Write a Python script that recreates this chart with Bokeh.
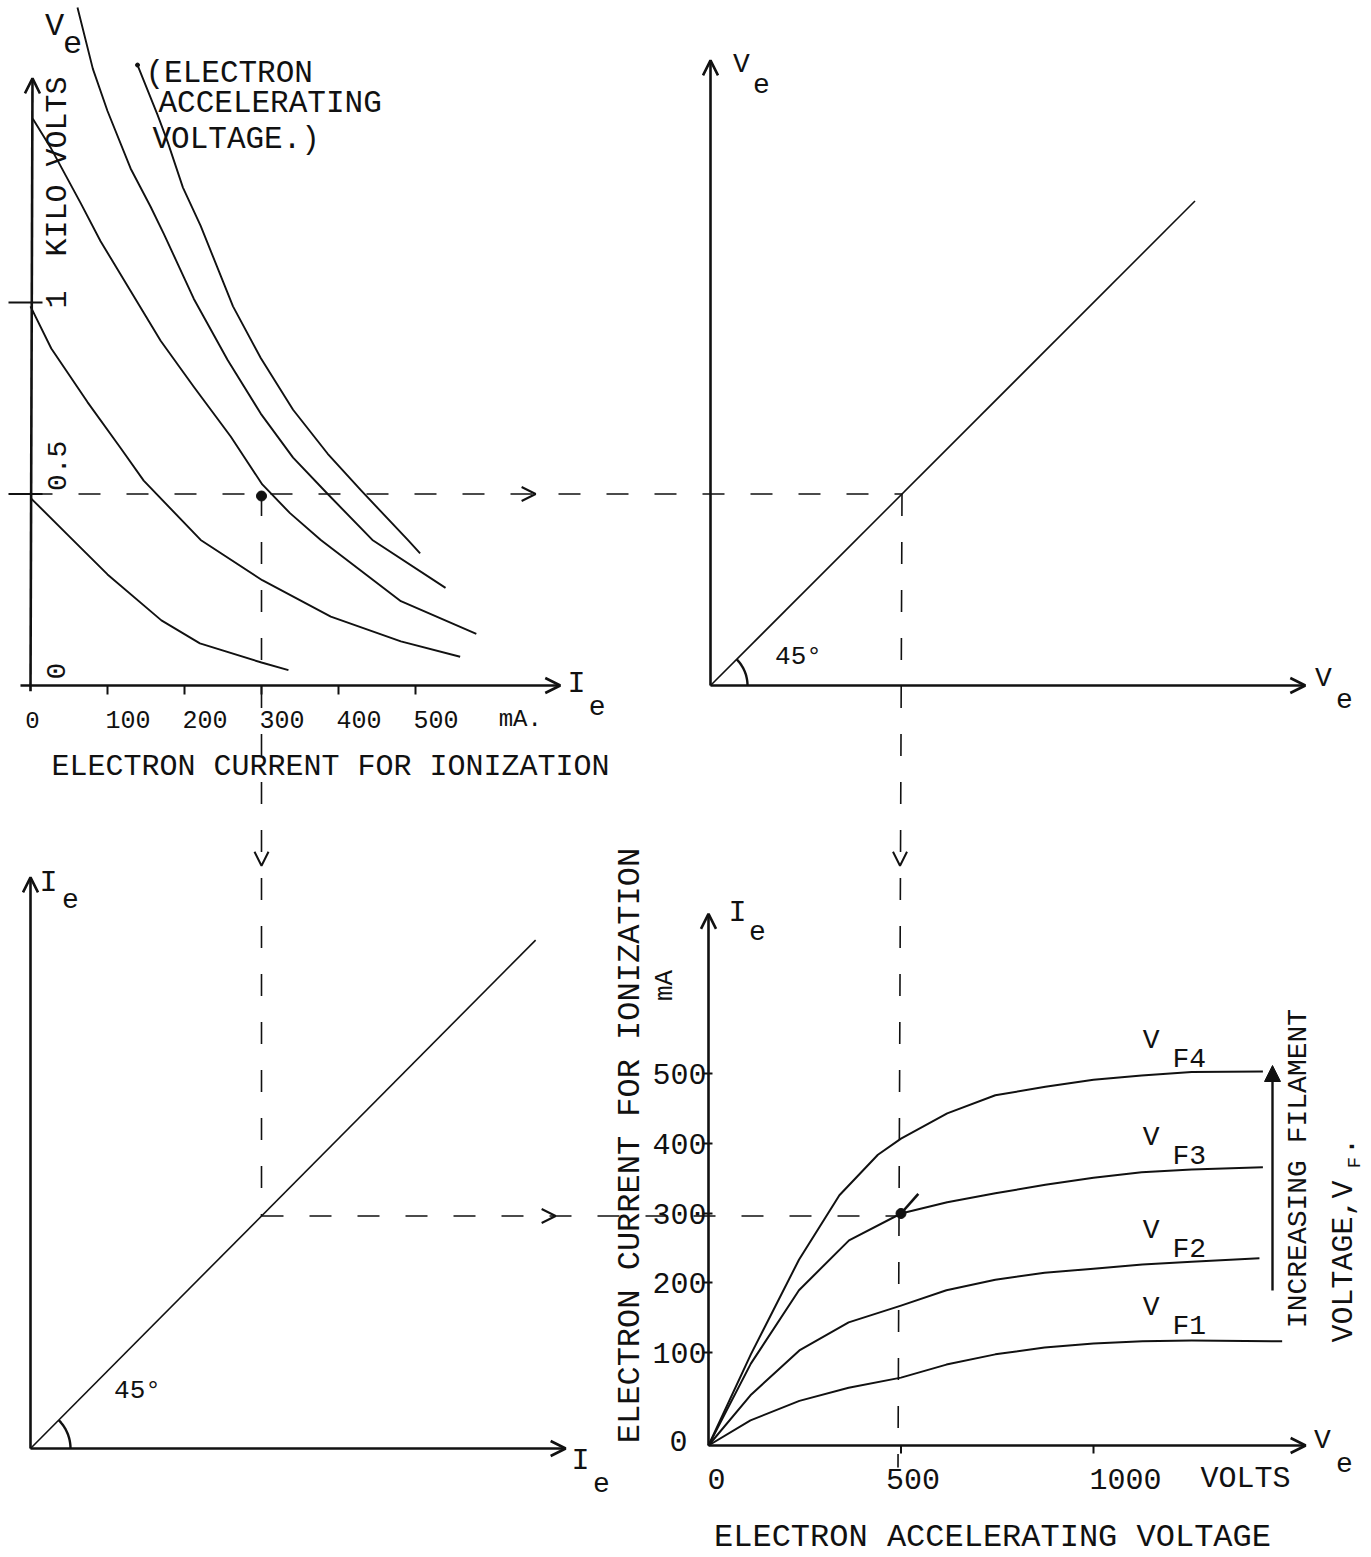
import numpy as np
from bokeh.plotting import figure
from bokeh.models import Range1d, Arrow, OpenHead, NormalHead, Label
from bokeh.embed import file_html
from bokeh.resources import INLINE

# ---------------- DATA ----------------
# Quadrant 1 : electron accelerating voltage Ve (kV) versus ionisation current Ie (mA)
q1_ie_ticks = [100, 200, 300, 400, 500]
q1_ie_tick_labels = ["100", "200", "300", "400", "500"]
curveA_ie = [0, 50, 100, 170, 220, 300, 335]
curveA_ve = [0.49, 0.39, 0.29, 0.17, 0.11, 0.06, 0.04]
curveB_ie = [0, 27, 74, 117, 147, 221, 301, 390, 481, 558]
curveB_ve = [0.99, 0.88, 0.74, 0.62, 0.535, 0.38, 0.275, 0.18, 0.115, 0.075]
curveC_ie = [3, 26, 65, 91, 130, 169, 212, 260, 301, 337, 377, 481, 579]
curveC_ve = [1.48, 1.405, 1.26, 1.16, 1.03, 0.90, 0.78, 0.65, 0.525, 0.45, 0.38, 0.22, 0.135]
curveD_ie = [61, 81, 100, 130, 156, 173, 212, 256, 299, 341, 386, 444, 539]
curveD_ve = [1.77, 1.61, 1.50, 1.35, 1.25, 1.18, 1.01, 0.85, 0.71, 0.595, 0.50, 0.38, 0.255]
curveE_ie = [139, 165, 178, 198, 221, 263, 299, 341, 386, 429, 490, 506]
curveE_ve = [1.62, 1.49, 1.42, 1.30, 1.20, 0.99, 0.855, 0.72, 0.605, 0.51, 0.38, 0.345]
op_ie, op_ve = 300, 0.5          # operating point

# Quadrant 2 : 45 degree Ve -> Ve transfer line (kV)
q2_line_ve = [0.0, 1.265]
# Quadrant 3 : 45 degree Ie -> Ie transfer line (mA)
q3_line_ie = [0, 656]

# Quadrant 4 : Ie (mA) versus Ve (V) for four filament voltages
q4_ie_ticks = [0, 100, 200, 300, 400, 500]
q4_ie_tick_labels = ["0", "100", "200", "300", "400", "500"]
q4_ve_ticks = [0, 500, 1000]
q4_ve_tick_labels = ["0", "500", "1000"]
vf4_ve = [0, 110, 235, 340, 440, 500, 620, 745, 875, 1000, 1125, 1255, 1440]
vf4_ie = [0, 98, 233, 326, 384, 407, 443, 469, 481, 491, 497, 502, 503]
vf3_ve = [0, 110, 235, 365, 500, 620, 745, 875, 1000, 1125, 1255, 1440]
vf3_ie = [0, 88, 189, 261, 300, 316, 329, 341, 351, 359, 363, 366]
vf2_ve = [0, 109, 236, 364, 500, 618, 745, 873, 1000, 1127, 1255, 1431]
vf2_ie = [0, 54, 103, 143, 167, 189, 204, 214, 220, 226, 230, 235]
vf1_ve = [0, 109, 236, 364, 500, 618, 745, 873, 1000, 1127, 1255, 1490]
vf1_ie = [0, 27, 48, 62, 73, 87, 98, 107, 113, 116, 117, 116]
vf_names = ["4", "3", "2", "1"]

# ---------------- LAYOUT (page pixel frame) ----------------
W, H = 1368, 1556
p = figure(width=W, height=H, x_range=Range1d(0, W), y_range=Range1d(H, 0),
           output_backend="svg", toolbar_location=None, min_border=0,
           x_axis_location=None, y_axis_location=None)
p.grid.visible = False
p.outline_line_color = None
p.background_fill_color = "white"
p.border_fill_color = "white"

def q1x(v): return 30 + 0.77 * np.asarray(v, dtype=float)
def q1y(v): return 685 - 383 * np.asarray(v, dtype=float)
def q2x(v): return 710 + 383 * np.asarray(v, dtype=float)
def q2y(v): return 685 - 383 * np.asarray(v, dtype=float)
def q3x(v): return 30 + 0.77 * np.asarray(v, dtype=float)
def q3y(v): return 1448 - 0.775 * np.asarray(v, dtype=float)
def q4x(v): return 708 + 0.385 * np.asarray(v, dtype=float)
_Q4_IE = [0, 100, 200, 300, 400, 500, 750]
_Q4_PX = [1445, 1352, 1282, 1213, 1143, 1073, 898]
def q4y(v): return np.interp(np.asarray(v, dtype=float), _Q4_IE, _Q4_PX)

MONO = "Liberation Mono"
INK = "#111111"

def lab(x, y, t, size, align="center", baseline="middle", angle=0.0, font=MONO, weight="normal"):
    p.add_layout(Label(x=float(x), y=float(y), text=t, text_font=font,
                       text_font_size=f"{size}px", text_align=align,
                       text_baseline=baseline, angle=angle, text_color=INK,
                       text_font_style=weight))

def axis_arrow(x0, y0, x1, y1, lw=2.6, size=15):
    p.add_layout(Arrow(end=OpenHead(size=size, line_width=lw, line_color=INK),
                       x_start=float(x0), y_start=float(y0), x_end=float(x1), y_end=float(y1),
                       line_width=lw, line_color=INK))

def mid_arrow(x, y, dx, dy, size=14):
    p.add_layout(Arrow(end=OpenHead(size=size, line_width=2.0, line_color=INK),
                       x_start=float(x - dx), y_start=float(y - dy), x_end=float(x), y_end=float(y),
                       line_alpha=0))

DASH = "22 26"

# ---------------- QUADRANT 1 ----------------
axis_arrow(q1x(0), q1y(-0.015), q1x(0) + 2, q1y(1.585))
axis_arrow(q1x(-13), q1y(0), q1x(688), q1y(0))
for v in (0.5, 1.0):
    p.line([8, 42], [float(q1y(v))] * 2, line_width=2.2, line_color=INK)
for t in q1_ie_ticks:
    p.line([float(q1x(t))] * 2, [float(q1y(0)), float(q1y(0)) + 9], line_width=2, line_color=INK)
for xs, ys in [(curveA_ie, curveA_ve), (curveB_ie, curveB_ve), (curveC_ie, curveC_ve),
               (curveD_ie, curveD_ve), (curveE_ie, curveE_ve)]:
    p.line(q1x(xs), q1y(ys), line_width=1.9, line_color=INK, line_join="round")
p.scatter([float(q1x(curveE_ie[0]))], [float(q1y(curveE_ve[0]))], size=4, color=INK)
p.scatter([float(q1x(op_ie))], [float(q1y(op_ve)) + 2], size=10, color=INK)

lab(q1x(0) + 2, q1y(0) + 34, "0", 24)
for t, s in zip(q1_ie_ticks, q1_ie_tick_labels):
    lab(q1x(t) - 2, q1y(0) + 34, s, 25, align="left")
lab(q1x(608), q1y(0) + 34, "mA.", 24, align="left")
lab(330, 766, "ELECTRON CURRENT FOR IONIZATION", 30)
lab(q1x(709), q1y(0) - 2, "I", 30)
lab(q1x(736), q1y(0) + 20, "e", 28)
# vertical axis labels
lab(55, q1y(0) - 6, "0", 28, align="left", angle=np.pi / 2)
lab(56, q1y(0.5) - 3, "0.5", 28, align="left", angle=np.pi / 2)
lab(55, q1y(1.0) + 6, "1", 30, align="left", angle=np.pi / 2)
lab(57, 256, "KILO VOLTS", 30, align="left", angle=np.pi / 2)
lab(54, 26, "V", 32)
lab(72, 42, "e", 32)
lab(145, 73, "(ELECTRON", 31, align="left")
lab(158, 103, "ACCELERATING", 31, align="left")
lab(152, 139, "VOLTAGE.)", 31, align="left")

# ---------------- QUADRANT 2 ----------------
axis_arrow(q2x(0), q2y(0), q2x(0), q2y(1.632))
axis_arrow(q2x(0), q2y(0), q2x(1.553), q2y(0))
p.line(q2x(q2_line_ve), q2y(q2_line_ve), line_width=1.6, line_color=INK)
th = np.linspace(0, np.pi / 4, 20)
p.line(q2x(0) + 37 * np.cos(th), q2y(0) - 37 * np.sin(th), line_width=2.4, line_color=INK)
lab(798, 656, "45°", 26)
lab(741, 64, "V", 28)
lab(761, 83, "e", 28)
lab(1323, 678, "V", 28)
lab(1344, 698, "e", 28)

# ---------------- QUADRANT 3 ----------------
axis_arrow(q3x(0), q3y(0), q3x(0), q3y(737))
axis_arrow(q3x(0), q3y(0), q3x(695), q3y(0))
p.line(q3x(q3_line_ie), q3y(q3_line_ie), line_width=1.6, line_color=INK)
p.line(q3x(0) + 40 * np.cos(th), q3y(0) - 40 * np.sin(th), line_width=2.4, line_color=INK)
lab(137, 1390, "45°", 26)
lab(48, 882, "I", 30)
lab(70, 898, "e", 28)
lab(580, 1460, "I", 30)
lab(601, 1482, "e", 28)

# ---------------- QUADRANT 4 ----------------
axis_arrow(q4x(0), q4y(0), q4x(0), q4y(728))
axis_arrow(q4x(0), q4y(0), q4x(1551), q4y(0))
for t in q4_ie_ticks[1:]:
    p.line([float(q4x(0)) - 6, float(q4x(0)) + 4], [float(q4y(t))] * 2, line_width=2, line_color=INK)
for t in q4_ve_ticks[1:]:
    p.line([float(q4x(t))] * 2, [float(q4y(0)), float(q4y(0)) + 8], line_width=2, line_color=INK)
for xs, ys in [(vf4_ve, vf4_ie), (vf3_ve, vf3_ie), (vf2_ve, vf2_ie), (vf1_ve, vf1_ie)]:
    p.line(q4x(xs), q4y(ys), line_width=2.0, line_color=INK, line_join="round")
for xs, ys, n in zip([vf4_ve, vf3_ve, vf2_ve, vf1_ve], [vf4_ie, vf3_ie, vf2_ie, vf1_ie], vf_names):
    yy = float(np.interp(1150, xs, ys))
    lab(q4x(1150), q4y(yy) - 34, "V", 28)
    lab(q4x(1150) + 38, q4y(yy) - 15, "F" + n, 28)
p.scatter([float(q4x(500))], [float(q4y(300))], size=10, color=INK)
p.line(q4x([500, 545]), q4y([300, 328]), line_width=2.6, line_color=INK)

for t, s in zip(q4_ie_ticks, q4_ie_tick_labels):
    if t == 0:
        lab(q4x(0) - 30, float(q4y(t)) - 5, s, 30)
    else:
        lab(q4x(0) - 2, float(q4y(t)), s, 30, align="right")
lab(q4x(0) + 8, 1478, "0", 30)
lab(q4x(500) + 12, 1478, "500", 30)
lab(q4x(1000) + 32, 1478, "1000", 30)
lab(1245, 1478, "VOLTS", 30)
lab(992, 1537, "ELECTRON ACCELERATING VOLTAGE", 32)
lab(630, 1145, "ELECTRON CURRENT FOR IONIZATION", 32, angle=np.pi / 2)
lab(664, 985, "mA", 26, angle=np.pi / 2)
lab(737, 912, "I", 30)
lab(757, 930, "e", 28)
lab(1322, 1440, "V", 28)
lab(1344, 1462, "e", 28)
# increasing filament voltage arrow
p.add_layout(Arrow(end=NormalHead(size=16, fill_color=INK, line_color=INK),
                   x_start=1272.0, y_start=1290.0, x_end=1272.0, y_end=1065.0,
                   line_width=2.4, line_color=INK))
lab(1298, 1168, "INCREASING FILAMENT", 28, angle=np.pi / 2)
lab(1343, 1342, "VOLTAGE,V", 30, align="left", angle=np.pi / 2)
lab(1354, 1162, "F", 19, angle=np.pi / 2)
lab(1343, 1146, ".", 30, angle=np.pi / 2)

# ---------------- CONNECTING DASHED LINES ----------------
y_h1 = float(q1y(op_ve))
p.line([float(q1x(0)), float(q2x(op_ve))], [y_h1, y_h1], line_width=1.6, line_color=INK, line_dash=DASH)
mid_arrow(q1x(656), y_h1, 10, 0)
x_v1 = float(q1x(op_ie))
p.line([x_v1, x_v1], [y_h1, float(q3y(op_ie))], line_width=1.6, line_color=INK, line_dash=DASH)
mid_arrow(x_v1, q3y(752), 0, 10)
x_v2 = float(q2x(op_ve))
p.line([x_v2, x_v2 - 4], [float(q2y(op_ve)), float(q4y(0)) + 22], line_width=1.6, line_color=INK, line_dash=DASH)
mid_arrow(x_v2 - 2, q3y(752), 0, 10)
y_h2 = float(q3y(op_ie))
p.line([float(q3x(op_ie)), float(q4x(500))], [y_h2, y_h2], line_width=1.6, line_color=INK, line_dash=DASH)
mid_arrow(q3x(682), y_h2, 10, 0)

open("out.html", "w").write(file_html(p, INLINE))
